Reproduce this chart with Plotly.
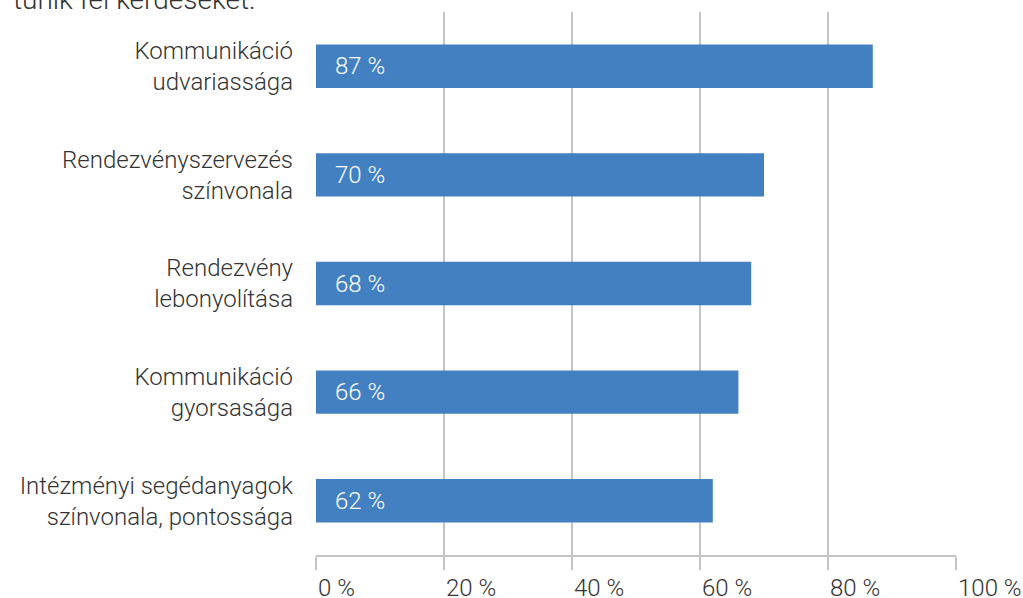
import plotly.graph_objects as go

categories = [
    "Kommunikáció<br>udvariassága",
    "Rendezvényszervezés<br>színvonala",
    "Rendezvény<br>lebonyolítása",
    "Kommunikáció<br>gyorsasága",
    "Intézményi segédanyagok<br>színvonala, pontossága",
]
values = [87, 70, 68, 66, 62]
tick_vals = [0, 20, 40, 60, 80, 100]
tick_text = ["0 %", "20 %", "40 %", "60 %", "80 %", "100 %"]
title_text = "tűnik fel kérdéseket."

FONT = "Roboto"
BAR = "#4280c2"
GRID = "#c4c4c4"
TXT = "#333333"
FS = 24

fig = go.Figure()
fig.add_trace(go.Bar(
    y=categories, x=values, orientation="h",
    marker=dict(color=BAR, line=dict(width=0)),
    hoverinfo="skip",
))

annotations = []
for c, v in zip(categories, values):
    annotations.append(dict(
        x=0, y=c, xref="x", yref="y", text=f"{v} %", showarrow=False,
        xanchor="left", xshift=17,
        font=dict(family=FONT, size=FS, color="white", weight=300),
    ))
annotations.append(dict(
    x=0, y=1, xref="paper", yref="paper", text=title_text, showarrow=False,
    xanchor="left", yanchor="bottom", xshift=-305, yshift=-6,
    font=dict(family=FONT, size=28, color=TXT, weight=300),
))

fig.update_layout(
    width=1023, height=598,
    margin=dict(l=316, r=67, t=12, b=43, autoexpand=False),
    paper_bgcolor="white", plot_bgcolor="white",
    showlegend=False,
    bargap=0.6,
    font=dict(family=FONT, size=FS, color=TXT, weight=300),
    annotations=annotations,
    xaxis=dict(
        range=[0, 100], tickvals=tick_vals, ticktext=tick_text,
        showgrid=True, gridcolor=GRID, gridwidth=2,
        zeroline=False, showline=True, linecolor=GRID, linewidth=2,
        ticks="outside", ticklen=13, tickwidth=2, tickcolor=GRID,
        ticklabelposition="outside right", ticklabelstandoff=10,
        tickfont=dict(family=FONT, size=FS, color=TXT, weight=300),
        automargin=False, fixedrange=True,
    ),
    yaxis=dict(
        autorange="reversed", showgrid=False, zeroline=False, showline=False,
        ticks="", ticklabelstandoff=22,
        tickfont=dict(family=FONT, size=FS, color=TXT, weight=300),
        automargin=False, fixedrange=True,
    ),
)

fig.write_html(
    "out.html",
    config={"displayModeBar": False},
    post_script="document.body.style.margin='0';document.body.style.overflow='hidden';",
)
